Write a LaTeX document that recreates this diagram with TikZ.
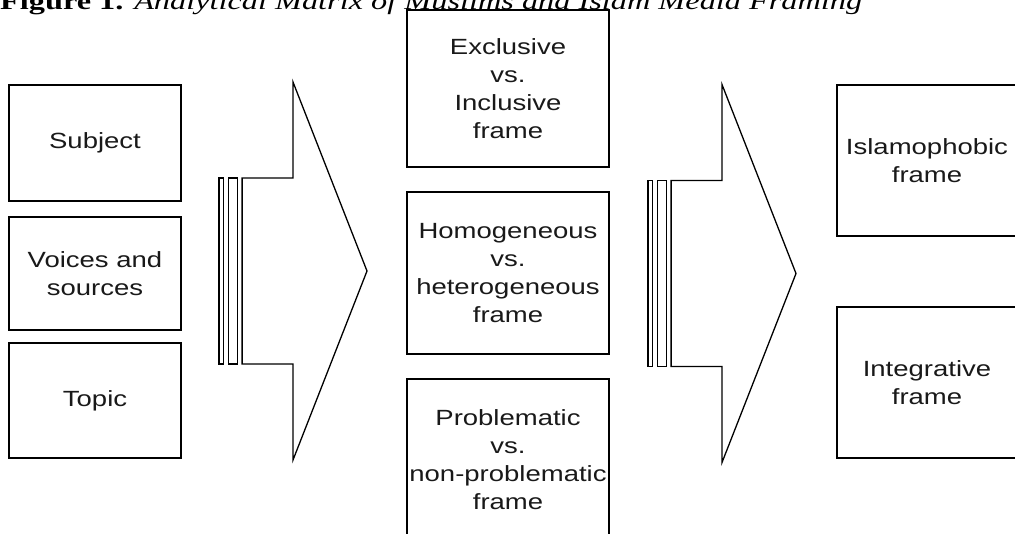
\documentclass[tikz,border=0pt]{standalone}
\usepackage{fontspec}
\setmainfont{Liberation Sans}[FakeStretch=1.25]
\newfontfamily\capfont{Liberation Serif}[FakeStretch=1.33]
\begin{document}
\begin{tikzpicture}[x=1pt,y=-1pt,
  box/.style={draw=black,line width=1.6pt,rectangle,inner sep=0pt,align=center,
    font=\fontsize{22}{28}\selectfont,text=black!90},
  arr/.style={draw=black,line width=1.3pt,fill=white,line join=miter},
  pics/stripedarrow/.style={code={
    \draw[arr] (0,-93) rectangle (4.6,93);
    \draw[arr] (9.25,-93) rectangle (18.5,93);
    \draw[arr] (23.1,-93) -- (74,-93) -- (74,-189) -- (148,0) -- (74,189) -- (74,93) -- (23.1,93) -- cycle;
  }}]
\useasboundingbox (0,0) rectangle (1015,533);
\clip (0,0) rectangle (1015,533);
% caption (cut off at the top)
\node[anchor=base west,inner sep=0pt,font=\capfont\fontsize{24.3}{28}\selectfont] (cap) at (0,9.5)
  {\textbf{Figure 1.} \textit{Analytical Matrix of Muslims and Islam Media Framing}};
% left column
\node[box,minimum width=172pt,minimum height=116pt] (subj) at (95,143) {Subject};
\node[box,minimum width=172pt,minimum height=113pt] (voic) at (95,273.5) {Voices and\\sources};
\node[box,minimum width=172pt,minimum height=115pt] (topi) at (95,400.5) {Topic};
% arrows
\pic at (219,271) {stripedarrow};
\pic at (648,273.5) {stripedarrow};
% middle column
\node[box,minimum width=202pt,minimum height=157pt] (excl) at (508,88.5) {Exclusive\\vs.\\Inclusive\\frame};
\node[box,minimum width=202pt,minimum height=162pt] (homo) at (508,273) {Homogeneous\\vs.\\heterogeneous\\frame};
\node[box,minimum width=202pt,minimum height=162pt] (prob) at (508,460) {Problematic\\vs.\\non-problematic\\frame};
% right column
\node[box,minimum width=180pt,minimum height=151pt] (isla) at (927,160.5) {Islamophobic\\frame};
\node[box,minimum width=180pt,minimum height=151pt] (inte) at (927,382.5) {Integrative\\frame};
\end{tikzpicture}
\end{document}
